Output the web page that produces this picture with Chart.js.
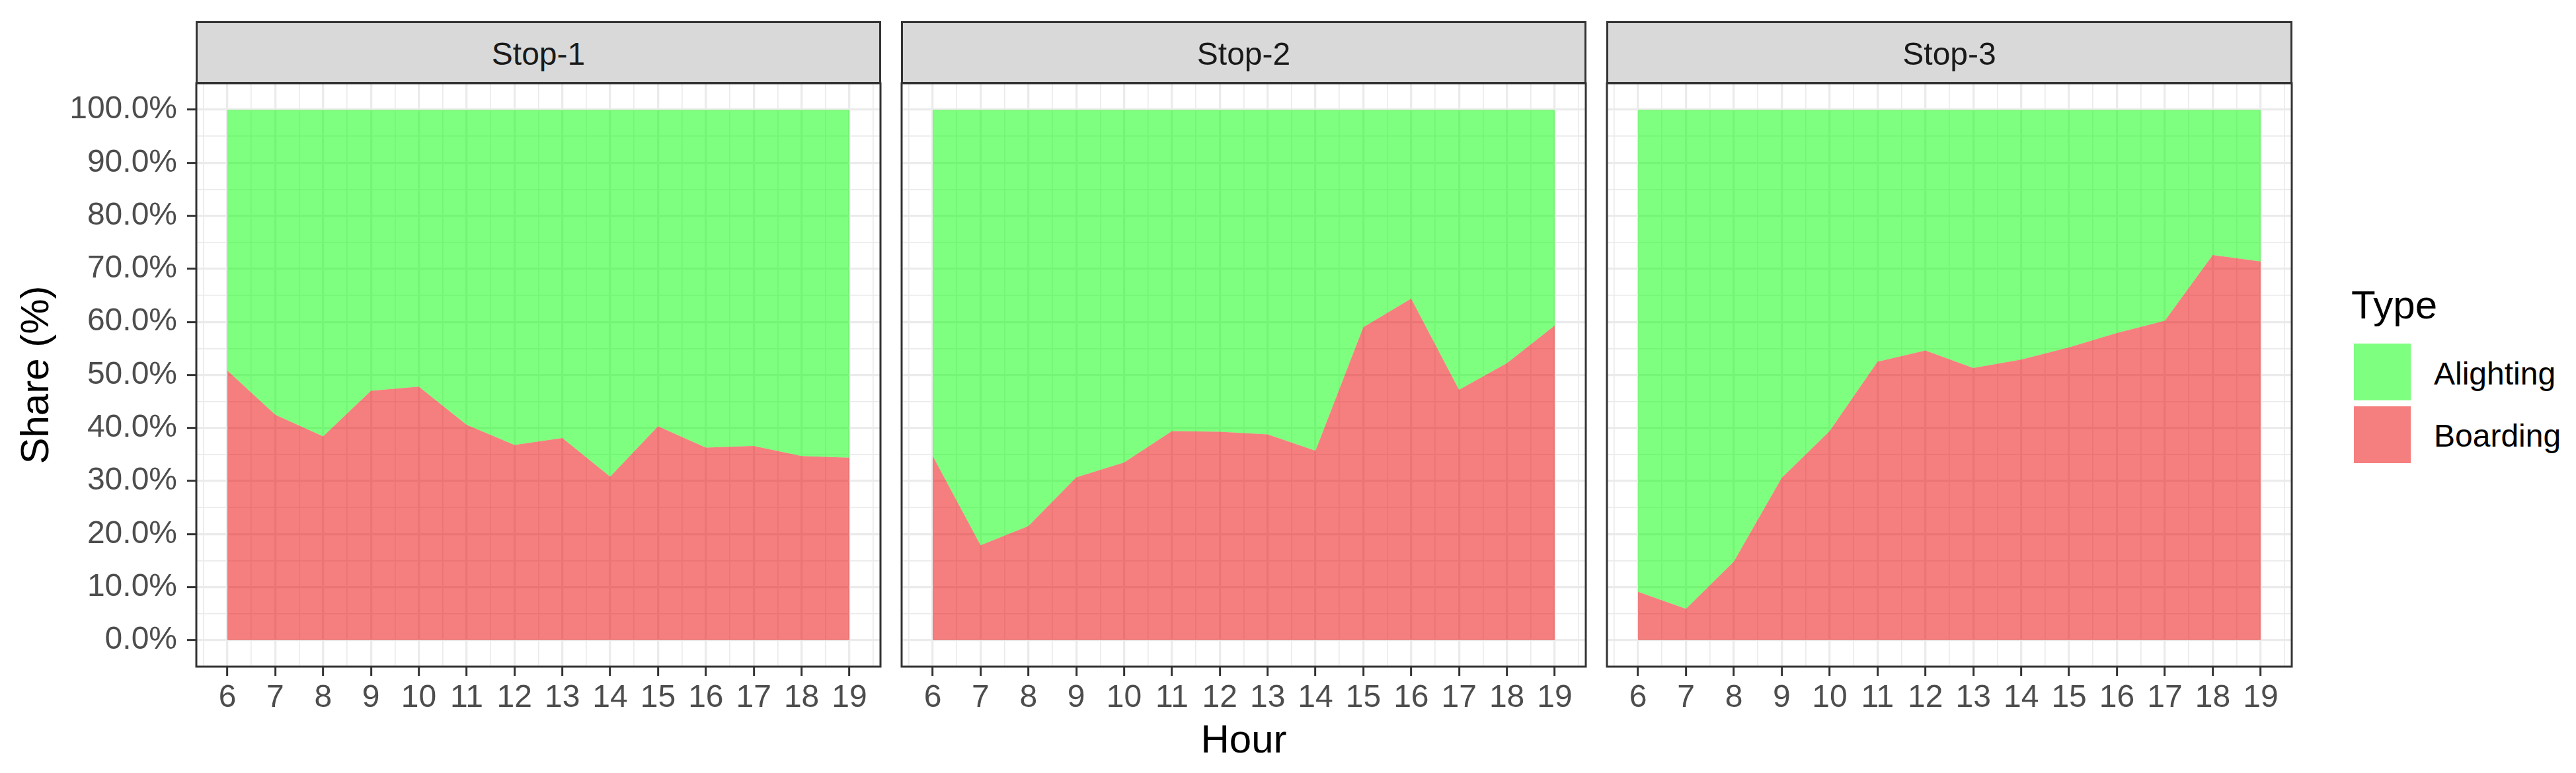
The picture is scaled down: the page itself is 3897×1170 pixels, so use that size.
<!DOCTYPE html>
<html>
<head>
<meta charset="utf-8">
<script src="https://cdn.jsdelivr.net/npm/chart.js@4.4.1/dist/chart.umd.min.js"></script>
<style>
html,body{margin:0;padding:0;background:#fff;width:3897px;height:1170px;overflow:hidden;}
#wrap{position:relative;width:3897px;height:1170px;font-family:'Liberation Sans',Arial,sans-serif;}
canvas{position:absolute;top:0;}
.strip{position:absolute;top:32px;height:95px;box-sizing:border-box;border:3px solid #333;background:#D9D9D9;}
.strip span{position:absolute;left:0;right:0;top:23px;text-align:center;font-size:48px;line-height:48px;color:#1A1A1A;}
.lg{position:absolute;color:#000;white-space:nowrap;}
.key{position:absolute;width:86px;height:86px;}
</style>
</head>
<body>
<div id="wrap">
  <canvas id="c1" width="1336" height="1170" style="left:0px"></canvas>
  <canvas id="c2" width="1043" height="1170" style="left:1360px"></canvas>
  <canvas id="c3" width="1044" height="1170" style="left:2427px"></canvas>
  <div class="strip" style="left:296px;width:1037px"><span id="s1"></span></div>
  <div class="strip" style="left:1363px;width:1037px"><span id="s2"></span></div>
  <div class="strip" style="left:2430px;width:1038px"><span id="s3"></span></div>
  <div class="lg" id="legTitle" style="left:3557px;top:432px;font-size:60px;line-height:60px;"></div>
  <div class="key" style="left:3561px;top:520px;background:rgba(0,255,0,0.5);"></div>
  <div class="key" style="left:3561px;top:615px;background:rgba(235,0,0,0.5);"></div>
  <div class="lg" id="leg1" style="left:3682px;top:542px;font-size:48px;line-height:48px;"></div>
  <div class="lg" id="leg2" style="left:3682px;top:636px;font-size:48px;line-height:48px;"></div>
</div>
<script>
// ---- data ----
const hours = [6, 7, 8, 9, 10, 11, 12, 13, 14, 15, 16, 17, 18, 19];
const stopNames = ['Stop-1', 'Stop-2', 'Stop-3'];
const seriesNames = ['Alighting', 'Boarding'];
const legendTitle = 'Type';
const xTitle = 'Hour';
const yTitle = 'Share (%)';

const boardingStop1 = [50.8, 42.5, 38.4, 47.0, 47.8, 40.6, 36.8, 38.1, 30.8, 40.3, 36.3, 36.6, 34.7, 34.4];
const alightingStop1 = [49.2, 57.5, 61.6, 53.0, 52.2, 59.4, 63.2, 61.9, 69.2, 59.7, 63.7, 63.4, 65.3, 65.6];
const boardingStop2 = [34.7, 17.9, 21.5, 30.7, 33.5, 39.4, 39.3, 38.8, 35.7, 59.0, 64.4, 47.2, 52.2, 59.3];
const alightingStop2 = [65.3, 82.1, 78.5, 69.3, 66.5, 60.6, 60.7, 61.2, 64.3, 41.0, 35.6, 52.8, 47.8, 40.7];
const boardingStop3 = [9.1, 5.9, 14.8, 30.6, 39.4, 52.5, 54.6, 51.3, 52.9, 55.2, 57.9, 60.2, 72.6, 71.4];
const alightingStop3 = [90.9, 94.1, 85.2, 69.4, 60.6, 47.5, 45.4, 48.7, 47.1, 44.8, 42.1, 39.8, 27.4, 28.6];

const yTickValues = [0, 10, 20, 30, 40, 50, 60, 70, 80, 90, 100];
const yTickLabels = ['0.0%', '10.0%', '20.0%', '30.0%', '40.0%', '50.0%', '60.0%', '70.0%', '80.0%', '90.0%', '100.0%'];
const yMinorValues = [5, 15, 25, 35, 45, 55, 65, 75, 85, 95];
const xMinorValues = [5.5, 6.5, 7.5, 8.5, 9.5, 10.5, 11.5, 12.5, 13.5, 14.5, 15.5, 16.5, 17.5, 18.5, 19.5];

// ---- text ----
document.getElementById('s1').textContent = stopNames[0];
document.getElementById('s2').textContent = stopNames[1];
document.getElementById('s3').textContent = stopNames[2];
document.getElementById('legTitle').textContent = legendTitle;
document.getElementById('leg1').textContent = seriesNames[0];
document.getElementById('leg2').textContent = seriesNames[1];

const FONT = "'Liberation Sans', Arial, sans-serif";
const GRID = '#EBEBEB';

const borderPlugin = {
  id: 'panelBorder',
  afterDraw(chart) {
    const { ctx, chartArea: a } = chart;
    ctx.save();
    ctx.strokeStyle = '#333333';
    ctx.lineWidth = 3;
    ctx.strokeRect(a.left, a.top, a.right - a.left, a.bottom - a.top);
    ctx.restore();
  }
};

function isMajorX(v) { return hours.includes(v); }
function isMajorY(v) { return yTickValues.includes(v); }

function makePanel(id, boarding, alighting, cfg) {
  const ctx = document.getElementById(id).getContext('2d');
  return new Chart(ctx, {
    type: 'line',
    data: {
      datasets: [
        {
          label: seriesNames[1],
          data: hours.map((h, i) => ({ x: h, y: boarding[i] })),
          backgroundColor: 'rgba(235,0,0,0.5)',
          borderColor: 'rgba(0,0,0,0)',
          borderWidth: 0,
          pointRadius: 0,
          fill: 'origin',
          tension: 0
        },
        {
          label: seriesNames[0],
          data: hours.map((h, i) => ({ x: h, y: alighting[i] })),
          backgroundColor: 'rgba(0,255,0,0.5)',
          borderColor: 'rgba(0,0,0,0)',
          borderWidth: 0,
          pointRadius: 0,
          fill: '-1',
          tension: 0
        }
      ]
    },
    options: {
      responsive: false,
      animation: false,
      devicePixelRatio: 1,
      layout: { padding: { top: 126, bottom: 0, left: cfg.padLeft, right: 4 } },
      plugins: { legend: { display: false }, tooltip: { enabled: false }, title: { display: false } },
      scales: {
        x: {
          type: 'linear',
          min: 5.35,
          max: 19.65,
          afterBuildTicks: (s) => {
            s.ticks = hours.concat(xMinorValues).sort((a, b) => a - b).map(v => ({ value: v }));
          },
          afterFit: (s) => { s.height = 161; },
          border: { display: false },
          grid: {
            color: GRID,
            lineWidth: (c) => (c.tick && isMajorX(c.tick.value)) ? 3.3 : 1.7,
            drawTicks: true,
            tickLength: 14,
            tickWidth: 3,
            tickColor: (c) => (c.tick && isMajorX(c.tick.value)) ? '#333333' : 'rgba(0,0,0,0)'
          },
          ticks: {
            autoSkip: false,
            maxRotation: 0,
            minRotation: 0,
            padding: 5,
            color: '#4D4D4D',
            font: { family: FONT, size: 48 },
            callback: (v) => isMajorX(v) ? String(hours[hours.indexOf(v)]) : ''
          },
          title: {
            display: cfg.xTitle,
            text: xTitle,
            color: '#000',
            font: { family: FONT, size: 60 },
            padding: { top: 0, bottom: 12 }
          }
        },
        y: {
          type: 'linear',
          stacked: true,
          min: -5,
          max: 105,
          afterBuildTicks: (s) => {
            s.ticks = yTickValues.concat(yMinorValues).sort((a, b) => a - b).map(v => ({ value: v }));
          },
          afterFit: (s) => { s.width = cfg.yWidth; },
          border: { display: false },
          grid: {
            color: GRID,
            lineWidth: (c) => (c.tick && isMajorY(c.tick.value)) ? 3.3 : 1.7,
            drawTicks: cfg.showY,
            tickLength: 14,
            tickWidth: 3,
            tickColor: (c) => (c.tick && isMajorY(c.tick.value)) ? '#333333' : 'rgba(0,0,0,0)'
          },
          ticks: {
            display: cfg.showY,
            autoSkip: false,
            padding: 15,
            color: '#4D4D4D',
            font: { family: FONT, size: 48 },
            callback: (v) => isMajorY(v) ? yTickLabels[yTickValues.indexOf(v)] : ''
          },
          title: {
            display: cfg.showY,
            text: yTitle,
            color: '#000',
            font: { family: FONT, size: 60 },
            padding: { top: 20, bottom: 0 }
          }
        }
      }
    },
    plugins: [borderPlugin]
  });
}

makePanel('c1', boardingStop1, alightingStop1, { showY: true, yWidth: 297, padLeft: 0, xTitle: false });
makePanel('c2', boardingStop2, alightingStop2, { showY: false, yWidth: 0, padLeft: 4, xTitle: true });
makePanel('c3', boardingStop3, alightingStop3, { showY: false, yWidth: 0, padLeft: 4, xTitle: false });
</script>
</body>
</html>
